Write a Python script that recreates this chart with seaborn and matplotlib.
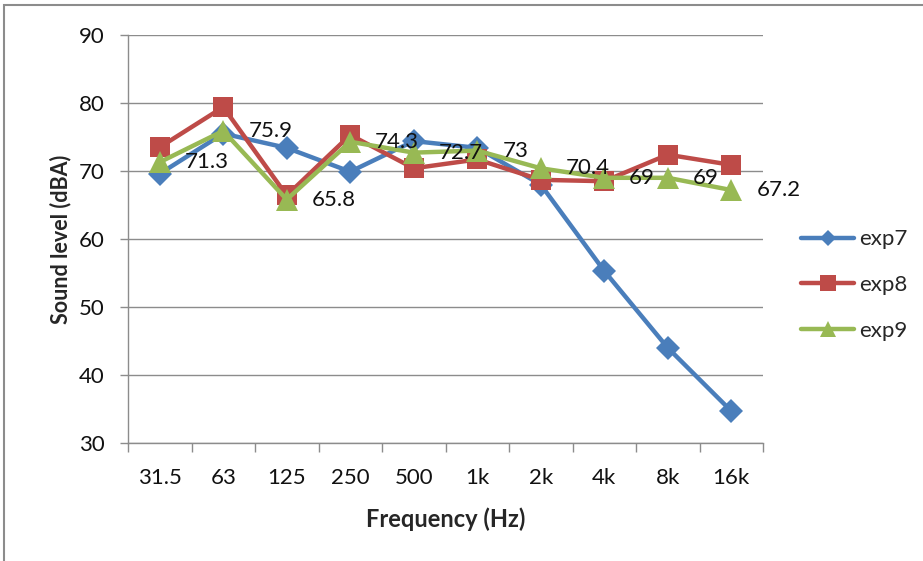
import matplotlib
matplotlib.use("Agg")
import matplotlib.pyplot as plt
from matplotlib.patches import Rectangle
from matplotlib.ticker import FixedLocator, NullFormatter
import pandas as pd
import seaborn as sns

# Octave-band centre frequencies and measured sound levels (dBA)
frequencies = ["31.5", "63", "125", "250", "500", "1k", "2k", "4k", "8k", "16k"]
exp7 = [69.6, 75.5, 73.4, 69.9, 74.4, 73.4, 68.0, 55.3, 44.0, 34.7]
exp8 = [73.5, 79.4, 66.4, 75.3, 70.4, 71.7, 68.7, 68.5, 72.4, 70.9]
exp9 = [71.3, 75.9, 65.8, 74.3, 72.7, 73.0, 70.4, 69.0, 69.0, 67.2]
series_names = ["exp7", "exp8", "exp9"]

df = pd.DataFrame({
    "Frequency": frequencies * 3,
    "pos": list(range(len(frequencies))) * 3,
    "level": exp7 + exp8 + exp9,
    "series": [s for s in series_names for _ in frequencies],
})

sns.set_theme(style="white")
plt.rcParams["font.family"] = ["Lato", "DejaVu Sans"]

palette = {"exp7": "#4A7EBB", "exp8": "#BE4B48", "exp9": "#98B954"}
markers = {"exp7": "D", "exp8": "s", "exp9": "^"}
plot_sizes = {"D": 12.5, "s": 14.5, "^": 15.5}
legend_sizes = {"D": 8, "s": 11, "^": 12}

W, H = 923, 561
fig = plt.figure(figsize=(W / 100, H / 100), dpi=100)
ax = fig.add_axes([128 / W, 118 / H, 635 / W, 408 / H])

sns.lineplot(
    data=df, x="pos", y="level", hue="series", style="series",
    markers=markers, dashes=False, palette=palette, sort=False,
    linewidth=3.2, markersize=13, markeredgewidth=0, ax=ax,
)
for line in ax.get_lines():
    m = line.get_marker()
    if m in plot_sizes:
        line.set_markersize(plot_sizes[m])

# value labels for exp9
for i, v in enumerate(exp9):
    ax.annotate(f"{v:g}", (i, v), xytext=(18, 0), textcoords="offset points",
                ha="left", va="center", fontsize=16, color="#111111")

ax.set_xlim(-0.5, len(frequencies) - 0.5)
ax.set_ylim(30, 90)
ax.set_yticks(range(30, 91, 10))
ax.set_xticks(range(len(frequencies)))
ax.set_xticklabels(frequencies)
ax.xaxis.set_minor_locator(FixedLocator([i - 0.5 for i in range(len(frequencies) + 1)]))
ax.xaxis.set_minor_formatter(NullFormatter())

ax.grid(axis="y", color="#8C8C8C", linewidth=1)
ax.grid(axis="x", visible=False)
for side in ["top", "right"]:
    ax.spines[side].set_visible(False)
for side in ["left", "bottom"]:
    ax.spines[side].set_color("#8C8C8C")
    ax.spines[side].set_linewidth(1)

ax.tick_params(axis="y", which="major", left=True, length=6, width=1, color="#8C8C8C",
               labelsize=16, pad=11, labelcolor="#111111")
ax.tick_params(axis="x", which="major", bottom=False, length=0, labelsize=16, pad=18,
               labelcolor="#111111")
ax.tick_params(axis="x", which="minor", bottom=True, length=6.5, width=1, color="#8C8C8C")

ax.set_xlabel("Frequency (Hz)", fontsize=17, fontweight="bold", labelpad=14)
ax.set_ylabel("Sound level (dBA)", fontsize=15.5, fontweight="bold", labelpad=5)

handles, labels = ax.get_legend_handles_labels()
ax.get_legend().remove()
leg = fig.legend(handles, labels, loc="center left",
                 bbox_to_anchor=(801 / W, 1 - 285 / H), bbox_transform=fig.transFigure,
                 frameon=False, fontsize=16, handlelength=2.4, handletextpad=0.2,
                 labelspacing=1.15, borderpad=0, borderaxespad=0)
for h in leg.legend_handles:
    m = h.get_marker()
    if m in legend_sizes:
        h.set_markersize(legend_sizes[m])
    h.set_linewidth(3.2)

# outer chart border
fig.add_artist(Rectangle((4 / W, -0.2), 1.2, 1.2 - 5 / H,
                         transform=fig.transFigure, fill=False,
                         edgecolor="#8C8C8C", linewidth=1.5))

fig.savefig("out.png", dpi=100)
